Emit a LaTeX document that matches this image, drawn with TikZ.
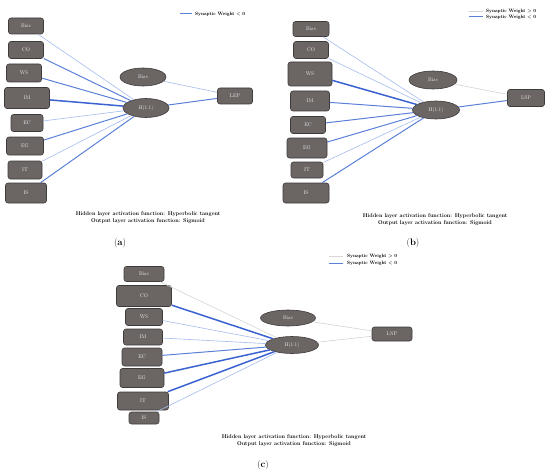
\documentclass[tikz,border=0pt]{standalone}
\usetikzlibrary{shapes.geometric}
\definecolor{boxgray}{HTML}{6B6564}
\definecolor{boxline}{HTML}{3F3B3B}
\definecolor{wstrong}{HTML}{3A62D0}
\definecolor{wmid}{HTML}{5B80D8}
\definecolor{wlight}{HTML}{A9BFEE}
\definecolor{wpos}{HTML}{D6D6D6}
\tikzset{
  inbox/.style={rectangle, rounded corners=5pt, draw=boxline, fill=boxgray, line width=1.2pt,
    text=white!92!black, inner sep=0pt, font=\fontsize{10.5}{11}\selectfont},
  hid/.style={ellipse, draw=boxline, fill=boxgray, line width=1.2pt,
    text=white!92!black, inner sep=0pt, font=\fontsize{10.5}{11}\selectfont},
  sz/.style 2 args={minimum width=#1*2pt, minimum height=#2*2pt},
  negstrong/.style={draw=wstrong, line width=3pt},
  negmid/.style={draw=wmid, line width=2pt},
  neglight/.style={draw=wlight, line width=1.3pt},
  posw/.style={draw=wpos, line width=1.3pt},
  legend/.style={font=\fontsize{9.5}{10}\selectfont\bfseries, anchor=west, inner sep=0pt},
  caption/.style={font=\fontsize{11}{14}\selectfont\bfseries, align=center, inner sep=0pt},
  panel/.style={font=\fontsize{19}{20}\selectfont, inner sep=0pt}
}
\begin{document}
\begin{tikzpicture}[x=2pt, y=-2pt]
  \useasboundingbox (0,0) rectangle (550,476);
  % (a)
  \draw
    (26,26) node[inbox, sz={35}{16}] (aBias){Bias}
    (26,50) node[inbox, sz={35}{17}] (aCO){CO}
    (24,73) node[inbox, sz={35}{18}] (aWS){WS}
    (27,98) node[inbox, sz={45}{21}] (aIM){IM}
    (27,123) node[inbox, sz={32}{17}] (aEC){EC}
    (25,146) node[inbox, sz={37}{18}] (aEG){EG}
    (25,170) node[inbox, sz={34}{18}] (aIT){IT}
    (26,193) node[inbox, sz={41}{20}] (aIS){IS}
    (143,77) node[hid, sz={46}{18}] (aB){Bias}
    (146,108) node[hid, sz={46}{19}] (aH){H(1:1)}
    (235,96) node[inbox, sz={35}{16}] (aLEP){LEP};
  \begin{scope}[-]
    \draw[neglight] (aBias) to (aH);
    \draw[negmid] (aCO) to (aH);
    \draw[negmid] (aWS) to (aH);
    \draw[negstrong] (aIM) to (aH);
    \draw[neglight] (aEC) to (aH);
    \draw[negmid] (aEG) to (aH);
    \draw[neglight] (aIT) to (aH);
    \draw[negmid] (aIS) to (aH);
    \draw[neglight] (aB) to (aLEP);
    \draw[negmid] (aH) to (aLEP);
  \end{scope}
  \coordinate (aL1) at (180,14);
  \coordinate (aL2) at (192,14);
  \draw[negmid] (aL1) -- (aL2);
  \node[legend] (aLt) at (195,14) {Synaptic Weight < 0};
  \node[caption] (aCap) at (148,217.5) {Hidden layer activation function: Hyperbolic tangent\\Output layer activation function: Sigmoid};
  \node[panel] (aLab) at (120,243) {(\textbf{a})};
  % (b)
  \draw
    (311,29) node[inbox, sz={36}{15}] (bBias){Bias}
    (311,50) node[inbox, sz={35}{17}] (bCO){CO}
    (310,74) node[inbox, sz={44}{24}] (bWS){WS}
    (310,101) node[inbox, sz={39}{20}] (bIM){IM}
    (308,125) node[inbox, sz={35}{17}] (bEC){EC}
    (307,148) node[inbox, sz={40}{20}] (bEG){EG}
    (307,170) node[inbox, sz={32}{16}] (bIT){IT}
    (306,193) node[inbox, sz={46}{20}] (bIS){IS}
    (433,80) node[hid, sz={48}{18}] (bB){Bias}
    (436,110) node[hid, sz={47}{18}] (bH){H(1:1)}
    (526,98) node[inbox, sz={37}{17}] (bLSP){LSP};
  \begin{scope}[-]
    \draw[neglight] (bBias) to (bH);
    \draw[neglight] (bCO) to (bH);
    \draw[negstrong] (bWS) to (bH);
    \draw[negmid] (bIM) to (bH);
    \draw[negmid] (bEC) to (bH);
    \draw[negmid] (bEG) to (bH);
    \draw[neglight] (bIT) to (bH);
    \draw[negmid] (bIS) to (bH);
    \draw[posw] (bB) to (bLSP);
    \draw[negmid] (bH) to (bLSP);
  \end{scope}
  \coordinate (bL1) at (469,11);
  \coordinate (bL2) at (483,11);
  \coordinate (bL3) at (469,17);
  \coordinate (bL4) at (483,17);
  \draw[posw] (bL1) -- (bL2);
  \draw[negmid] (bL3) -- (bL4);
  \node[legend] (bLt1) at (486,11) {Synaptic Weight > 0};
  \node[legend] (bLt2) at (486,17) {Synaptic Weight < 0};
  \node[caption] (bCap) at (435,220) {Hidden layer activation function: Hyperbolic tangent\\Output layer activation function: Sigmoid};
  \node[panel] (bLab) at (413,243) {(\textbf{b})};
  % (c)
  \draw
    (144,274) node[inbox, sz={40}{15}] (cBias){Bias}
    (144,296) node[inbox, sz={55}{21}] (cCO){CO}
    (144,317) node[inbox, sz={37}{17}] (cWS){WS}
    (143,337) node[inbox, sz={39}{16}] (cIM){IM}
    (142,357) node[inbox, sz={40}{18}] (cEC){EC}
    (142,378) node[inbox, sz={44}{19}] (cEG){EG}
    (143,401) node[inbox, sz={51}{18}] (cIT){IT}
    (144,418) node[inbox, sz={30}{12}] (cIS){IS}
    (288,318) node[hid, sz={55}{16}] (cB){Bias}
    (292,345) node[hid, sz={53}{17}] (cH){H(1:1)}
    (392,334) node[inbox, sz={40}{14}] (cLNP){LNP};
  \begin{scope}[-]
    \draw[posw] (cBias) to (cH);
    \draw[negstrong] (cCO) to (cH);
    \draw[neglight] (cWS) to (cH);
    \draw[neglight] (cIM) to (cH);
    \draw[negmid] (cEC) to (cH);
    \draw[negstrong] (cEG) to (cH);
    \draw[negstrong] (cIT) to (cH);
    \draw[neglight] (cIS) to (cH);
    \draw[posw] (cB) to (cLNP);
    \draw[posw] (cH) to (cLNP);
  \end{scope}
  \coordinate (cL1) at (329,256);
  \coordinate (cL2) at (343,256);
  \coordinate (cL3) at (329,263);
  \coordinate (cL4) at (343,263);
  \draw[posw] (cL1) -- (cL2);
  \draw[negmid] (cL3) -- (cL4);
  \node[legend] (cLt1) at (347,256) {Synaptic Weight > 0};
  \node[legend] (cLt2) at (347,263) {Synaptic Weight < 0};
  \node[caption] (cCap) at (294,441) {Hidden layer activation function: Hyperbolic tangent\\Output layer activation function: Sigmoid};
  \node[panel] (cLab) at (263,465) {(\textbf{c})};
\end{tikzpicture}
\end{document}
